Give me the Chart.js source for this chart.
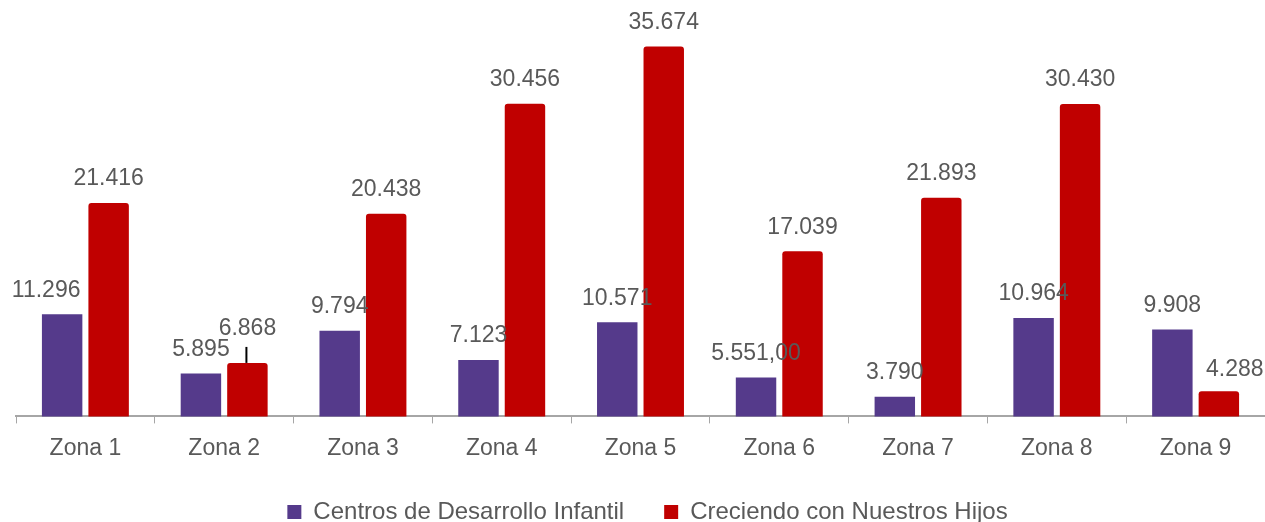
<!DOCTYPE html>
<html>
<head>
<meta charset="utf-8">
<script src="https://cdn.jsdelivr.net/npm/chart.js@4.4.1/dist/chart.umd.min.js"></script>
<style>
  html, body { margin: 0; padding: 0; background: #fff; }
  #wrap { width: 1265px; height: 522px; }
</style>
</head>
<body>
<div id="wrap"><canvas id="chart"></canvas></div>
<script>
const zonas = ['Zona 1', 'Zona 2', 'Zona 3', 'Zona 4', 'Zona 5', 'Zona 6', 'Zona 7', 'Zona 8', 'Zona 9'];

const centros = [11296, 5895, 9794, 7123, 10571, 5551, 3790, 10964, 9908];
const centrosLabels = ['11.296', '5.895', '9.794', '7.123', '10.571', '5.551,00', '3.790', '10.964', '9.908'];

const creciendo = [21416, 6868, 20438, 30456, 35674, 17039, 21893, 30430, 4288];
const creciendoLabels = ['21.416', '6.868', '20.438', '30.456', '35.674', '17.039', '21.893', '30.430', '4.288'];

const FONT = 'Liberation Sans, Arial, sans-serif';

// labels moved by hand in the original (dataset-index)
const labelShift = { '0-0': [-16, 0], '1-1': [0, -10], '1-8': [16, 2] };

const valueLabels = {
  id: 'valueLabels',
  afterLayout(chart) {
    // legend sits a little right of centre in the original
    chart.legend.left += 7;
    chart.legend.right += 7;
  },
  afterDatasetsDraw(chart) {
    const ctx = chart.ctx;
    ctx.save();
    ctx.font = '23px ' + FONT;
    ctx.fillStyle = '#595959';
    ctx.textAlign = 'center';
    ctx.textBaseline = 'middle';
    chart.data.datasets.forEach((ds, d) => {
      chart.getDatasetMeta(d).data.forEach((bar, i) => {
        const s = labelShift[d + '-' + i] || [0, 0];
        ctx.fillText(ds.labelsText[i], bar.x + s[0], bar.y - 24 + s[1]);
        if (d === 1 && i === 1) {
          ctx.strokeStyle = '#000';
          ctx.lineWidth = 2;
          ctx.beginPath();
          ctx.moveTo(bar.x - 1, bar.y);
          ctx.lineTo(bar.x - 1, bar.y - 16);
          ctx.stroke();
        }
      });
    });
    ctx.restore();
  }
};

new Chart(document.getElementById('chart').getContext('2d'), {
  type: 'bar',
  data: {
    labels: zonas,
    datasets: [
      {
        label: 'Centros de Desarrollo Infantil',
        data: centros,
        labelsText: centrosLabels,
        backgroundColor: '#553a8b',
        categoryPercentage: 0.67,
        barPercentage: 0.87
      },
      {
        label: 'Creciendo con Nuestros Hijos',
        data: creciendo,
        labelsText: creciendoLabels,
        backgroundColor: '#c00000',
        borderRadius: { topLeft: 3, topRight: 3 },
        borderSkipped: 'bottom',
        categoryPercentage: 0.67,
        barPercentage: 0.87
      }
    ]
  },
  options: {
    responsive: true,
    maintainAspectRatio: false,
    animation: false,
    layout: { padding: { left: 16, right: 0, top: 0, bottom: -12 } },
    scales: {
      x: {
        offset: true,
        afterFit(scale) { scale.height -= 13; },
        grid: {
          offset: true,
          drawOnChartArea: false,
          drawTicks: true,
          tickLength: 7,
          color: '#a6a6a6'
        },
        border: { color: '#a6a6a6', width: 2 },
        ticks: {
          color: '#595959',
          font: { family: FONT, size: 23 },
          padding: 11
        }
      },
      y: {
        display: false,
        min: 2000,
        max: 39900
      }
    },
    plugins: {
      legend: {
        position: 'bottom',
        labels: {
          color: '#595959',
          font: { family: FONT, size: 24 },
          boxWidth: 14,
          boxHeight: 14,
          padding: 40
        }
      },
      tooltip: { enabled: false }
    }
  },
  plugins: [valueLabels]
});
</script>
</body>
</html>
